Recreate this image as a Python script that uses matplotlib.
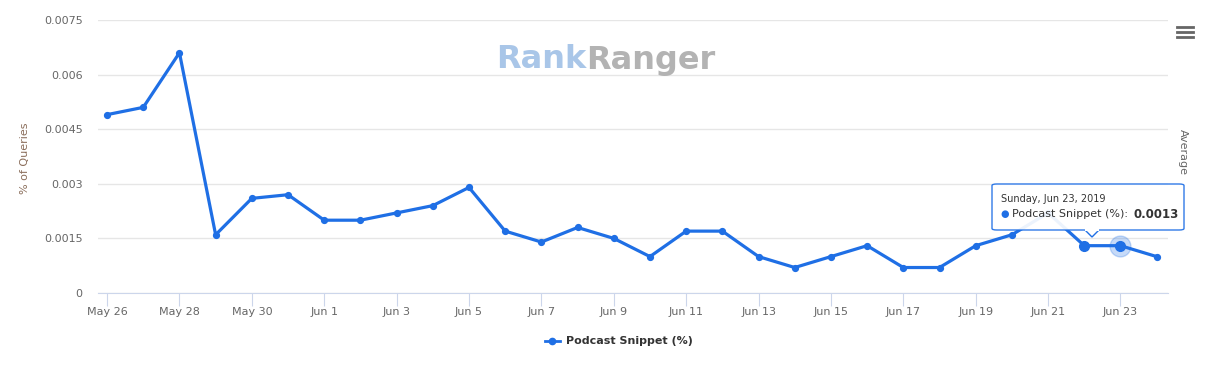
import numpy as np
import pandas as pd
import matplotlib.pyplot as plt
import matplotlib.dates as mdates
from matplotlib.patches import FancyBboxPatch, Polygon

dates = pd.date_range('2019-05-26', '2019-06-24', freq='D')
podcast = [0.0049, 0.0051, 0.0066, 0.0016, 0.0026, 0.0027, 0.0020, 0.0020,
           0.0022, 0.0024, 0.0029, 0.0017, 0.0014, 0.0018, 0.0015, 0.0010,
           0.0017, 0.0017, 0.0010, 0.0007, 0.0010, 0.0013, 0.0007, 0.0007,
           0.0013, 0.0016, 0.0022, 0.0013, 0.0013, 0.0010]
yticks = [0, 0.0015, 0.003, 0.0045, 0.006, 0.0075]
ytick_labels = ['0', '0.0015', '0.003', '0.0045', '0.006', '0.0075']
hover_idx = 28

blue = '#1f6fe5'
W, H = 1220, 384
fig = plt.figure(figsize=(12.2, 3.84), dpi=100)
ax = fig.add_axes([98 / W, 1 - 293 / H, (1168 - 98) / W, (293 - 20) / H])

ax.plot(dates, podcast, color=blue, lw=2.3, marker='o', ms=4.2, zorder=3, clip_on=False)
# hovered point
ax.plot(dates[hover_idx], podcast[hover_idx], 'o', ms=15, color=blue, alpha=0.25, zorder=2)
ax.plot(dates[hover_idx], podcast[hover_idx], 'o', ms=7, color=blue, zorder=4)
ax.plot(dates[hover_idx - 1], podcast[hover_idx - 1], 'o', ms=7, color=blue, zorder=4)

ax.set_xlim(dates[0] - pd.Timedelta(hours=6), dates[-1] + pd.Timedelta(hours=7.5))
ax.set_ylim(0, 0.0075)
ax.set_yticks(yticks)
ax.set_yticklabels(ytick_labels)
ax.set_xticks(dates[::2])
ax.xaxis.set_major_formatter(mdates.DateFormatter('%b %-d'))

ax.grid(axis='y', color='#e6e6e6', lw=1)
ax.set_axisbelow(True)
for s in ['top', 'right', 'left']:
    ax.spines[s].set_visible(False)
ax.spines['bottom'].set_color('#ccd6eb')
ax.tick_params(axis='y', length=0, labelsize=8, labelcolor='#666666', pad=11)
ax.tick_params(axis='x', length=9, color='#ccd6eb', labelsize=8, labelcolor='#666666', pad=1)
ax.set_ylabel('% of Queries', fontsize=8, color='#8a6d5a')
ax.yaxis.set_label_coords(30 / W, 1 - 158 / H, transform=fig.transFigure)

fig.text(1183 / W, 1 - 152 / H, 'Average', rotation=-90, fontsize=8, color='#666666',
         ha='center', va='center')

# watermark
fig.text(586 / W, 1 - 60 / H, 'Rank', fontsize=23, fontweight='bold', color='#a9c6e8',
         ha='right', va='center')
fig.text(586 / W, 1 - 60 / H, 'Ranger', fontsize=23, fontweight='bold', color='#b3b3b3',
         ha='left', va='center')

# menu icon
for yy in [27, 32, 37]:
    fig.add_artist(plt.Line2D([1177 / W, 1193 / W], [1 - yy / H] * 2, color='#666666', lw=2))

# tooltip
tip = FancyBboxPatch((992 / W, 1 - 230 / H), 192 / W, 46 / H,
                     boxstyle='round,pad=0,rounding_size=0.004', transform=fig.transFigure,
                     facecolor='white', edgecolor=blue, lw=1, alpha=0.92, zorder=10)
fig.add_artist(tip)
arrow = Polygon([[1085 / W, 1 - 230 / H], [1092 / W, 1 - 237 / H], [1099 / W, 1 - 230 / H]],
                closed=False, transform=fig.transFigure, facecolor='white', edgecolor=blue,
                lw=1, zorder=10)
fig.add_artist(arrow)
fig.add_artist(plt.Line2D([1086 / W, 1098 / W], [1 - 230 / H] * 2, color='white', lw=1.5, zorder=10.5))
fig.text(1001 / W, 1 - 199 / H, 'Sunday, Jun 23, 2019', fontsize=7, color='#333333',
         va='center', zorder=11)
fig.text(1000 / W, 1 - 214 / H, '●', fontsize=7, color=blue, va='center', zorder=11)
fig.text(1012 / W, 1 - 214 / H, 'Podcast Snippet (%):', fontsize=8, color='#333333',
         va='center', zorder=11)
fig.text(1133 / W, 1 - 214 / H, '0.0013', fontsize=8.5, fontweight='bold', color='#333333',
         va='center', zorder=11)

# legend
fig.add_artist(plt.Line2D([545 / W, 560 / W], [1 - 341 / H] * 2, color=blue, lw=2))
fig.add_artist(plt.Line2D([552 / W], [1 - 341 / H], color=blue, marker='o', ms=4.5))
fig.text(566 / W, 1 - 341 / H, 'Podcast Snippet (%)', fontsize=8, fontweight='bold',
         color='#333333', va='center')

fig.savefig('out.png', dpi=100)
